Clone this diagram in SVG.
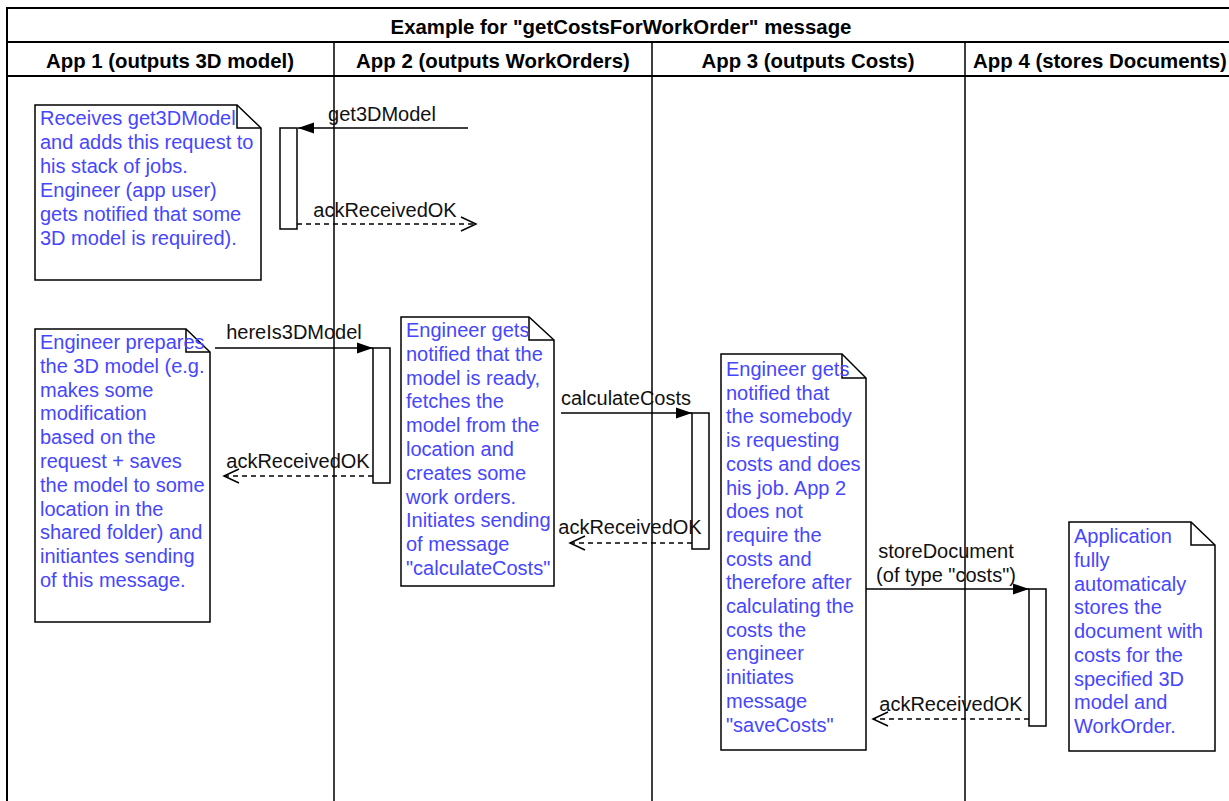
<svg xmlns="http://www.w3.org/2000/svg" width="1229" height="801" viewBox="0 0 1229 801">
<style>
.frame{fill:none;stroke:#000;stroke-width:2}
.lane{fill:none;stroke:#000;stroke-width:1.5}
.title{font-family:"Liberation Sans",Arial,sans-serif;font-size:20.4px;font-weight:bold;fill:#000;text-anchor:middle}
.note{fill:#fff;stroke:#000;stroke-width:1.5}
.fold{fill:none;stroke:#000;stroke-width:1.5}
.ntext{font-family:"Liberation Sans",Arial,sans-serif;font-size:20px;fill:#4646FF}
.act{fill:#fff;stroke:#000;stroke-width:1.5}
.msg{fill:none;stroke:#000;stroke-width:1.5}
.ret{fill:none;stroke:#000;stroke-width:1.5;stroke-dasharray:5,4}
.lbl{font-family:"Liberation Sans",Arial,sans-serif;font-size:20px;fill:#111;text-anchor:middle}
</style>
<defs>
<marker id="fill" markerUnits="userSpaceOnUse" markerWidth="18" markerHeight="13" refX="16" refY="5.5" orient="auto" overflow="visible">
<path d="M0,0 L16,5.5 L0,11 Z" fill="#000"/>
</marker>
<marker id="open" markerUnits="userSpaceOnUse" markerWidth="18" markerHeight="16" refX="15" refY="7" orient="auto" overflow="visible">
<path d="M0,0 L15,7 L0,14" fill="none" stroke="#000" stroke-width="1.5"/>
</marker>
</defs>
<rect width="1229" height="801" fill="#fff"/>
<g id="frame">
<path class="frame" d="M7,810 L7,8 L1240,8 M7,42 L1240,42 M7,76 L1240,76"/>
<path class="lane" d="M334,42 L334,801 M652,42 L652,801 M965,42 L965,801"/>
<text class="title" x="621" y="34">Example for "getCostsForWorkOrder" message</text>
<text class="title" x="170" y="68">App 1 (outputs 3D model)</text>
<text class="title" x="493" y="68">App 2 (outputs WorkOrders)</text>
<text class="title" x="808" y="68">App 3 (outputs Costs)</text>
<text class="title" x="1100" y="68">App 4 (stores Documents)</text>
</g>
<g id="note1">
<path class="note" d="M35,105 L237,105 L261,128 L261,280 L35,280 Z"/>
<path class="fold" d="M237,105 L237,128 L261,128"/>
<text class="ntext" x="40" y="125"><tspan x="40">Receives get3DModel</tspan><tspan x="40" dy="24">and adds this request to</tspan><tspan x="40" dy="24">his stack of jobs.</tspan><tspan x="40" dy="24">Engineer (app user)</tspan><tspan x="40" dy="24">gets notified that some</tspan><tspan x="40" dy="24">3D model is required).</tspan></text>
</g>
<g id="note2">
<path class="note" d="M35,329 L186,329 L210,352 L210,622 L35,622 Z"/>
<path class="fold" d="M186,329 L186,352 L210,352"/>
<text class="ntext" x="40" y="349"><tspan x="40">Engineer prepares</tspan><tspan x="40" dy="23.8">the 3D model (e.g.</tspan><tspan x="40" dy="23.8">makes some</tspan><tspan x="40" dy="23.8">modification</tspan><tspan x="40" dy="23.8">based on the</tspan><tspan x="40" dy="23.8">request + saves</tspan><tspan x="40" dy="23.8">the model to some</tspan><tspan x="40" dy="23.8">location in the</tspan><tspan x="40" dy="23.8">shared folder) and</tspan><tspan x="40" dy="23.8">initiantes sending</tspan><tspan x="40" dy="23.8">of this message.</tspan></text>
</g>
<g id="note3">
<path class="note" d="M401,317 L529,317 L554,340 L554,586 L401,586 Z"/>
<path class="fold" d="M529,317 L529,340 L554,340"/>
<text class="ntext" x="406" y="337"><tspan x="406">Engineer gets</tspan><tspan x="406" dy="23.8">notified that the</tspan><tspan x="406" dy="23.8">model is ready,</tspan><tspan x="406" dy="23.8">fetches the</tspan><tspan x="406" dy="23.8">model from the</tspan><tspan x="406" dy="23.8">location and</tspan><tspan x="406" dy="23.8">creates some</tspan><tspan x="406" dy="23.8">work orders.</tspan><tspan x="406" dy="23.8">Initiates sending</tspan><tspan x="406" dy="23.8">of message</tspan><tspan x="406" dy="23.8">"calculateCosts"</tspan></text>
</g>
<g id="note4">
<path class="note" d="M721,354 L842,354 L866,378 L866,750 L721,750 Z"/>
<path class="fold" d="M842,354 L842,378 L866,378"/>
<text class="ntext" x="726" y="376"><tspan x="726">Engineer gets</tspan><tspan x="726" dy="23.7">notified that</tspan><tspan x="726" dy="23.7">the somebody</tspan><tspan x="726" dy="23.7">is requesting</tspan><tspan x="726" dy="23.7">costs and does</tspan><tspan x="726" dy="23.7">his job. App 2</tspan><tspan x="726" dy="23.7">does not</tspan><tspan x="726" dy="23.7">require the</tspan><tspan x="726" dy="23.7">costs and</tspan><tspan x="726" dy="23.7">therefore after</tspan><tspan x="726" dy="23.7">calculating the</tspan><tspan x="726" dy="23.7">costs the</tspan><tspan x="726" dy="23.7">engineer</tspan><tspan x="726" dy="23.7">initiates</tspan><tspan x="726" dy="23.7">message</tspan><tspan x="726" dy="23.7">"saveCosts"</tspan></text>
</g>
<g id="note5">
<path class="note" d="M1069,522 L1191,522 L1215,545 L1215,751 L1069,751 Z"/>
<path class="fold" d="M1191,522 L1191,545 L1215,545"/>
<text class="ntext" x="1074" y="543"><tspan x="1074">Application</tspan><tspan x="1074" dy="23.75">fully</tspan><tspan x="1074" dy="23.75">automaticaly</tspan><tspan x="1074" dy="23.75">stores the</tspan><tspan x="1074" dy="23.75">document with</tspan><tspan x="1074" dy="23.75">costs for the</tspan><tspan x="1074" dy="23.75">specified 3D</tspan><tspan x="1074" dy="23.75">model and</tspan><tspan x="1074" dy="23.75">WorkOrder.</tspan></text>
</g>
<g id="act1"><rect class="act" x="280" y="128" width="17" height="101"/></g>
<g id="act2"><rect class="act" x="373" y="348" width="17" height="135"/></g>
<g id="act3"><rect class="act" x="692" y="413" width="17" height="136"/></g>
<g id="act4"><rect class="act" x="1029" y="589" width="17" height="137"/></g>
<g id="connectors">
<line class="msg" x1="468" y1="128" x2="298" y2="128" marker-end="url(#fill)"/>
<text class="lbl" x="382" y="121">get3DModel</text>
<line class="ret" x1="297" y1="224" x2="476" y2="224" marker-end="url(#open)"/>
<text class="lbl" x="385" y="217">ackReceivedOK</text>
<line class="msg" x1="215" y1="348" x2="373" y2="348" marker-end="url(#fill)"/>
<text class="lbl" x="294" y="339">hereIs3DModel</text>
<line class="ret" x1="373" y1="476" x2="224" y2="476" marker-end="url(#open)"/>
<text class="lbl" x="298" y="468">ackReceivedOK</text>
<line class="msg" x1="561" y1="413" x2="692" y2="413" marker-end="url(#fill)"/>
<text class="lbl" x="626" y="405">calculateCosts</text>
<line class="ret" x1="692" y1="543" x2="570" y2="543" marker-end="url(#open)"/>
<text class="lbl" x="630" y="534">ackReceivedOK</text>
<line class="msg" x1="866" y1="589" x2="1029" y2="589" marker-end="url(#fill)"/>
<text class="lbl" x="946" y="558">storeDocument</text>
<text class="lbl" x="946" y="582">(of type "costs")</text>
<line class="ret" x1="1029" y1="719" x2="873" y2="719" marker-end="url(#open)"/>
<text class="lbl" x="951" y="711">ackReceivedOK</text>
</g>
</svg>
